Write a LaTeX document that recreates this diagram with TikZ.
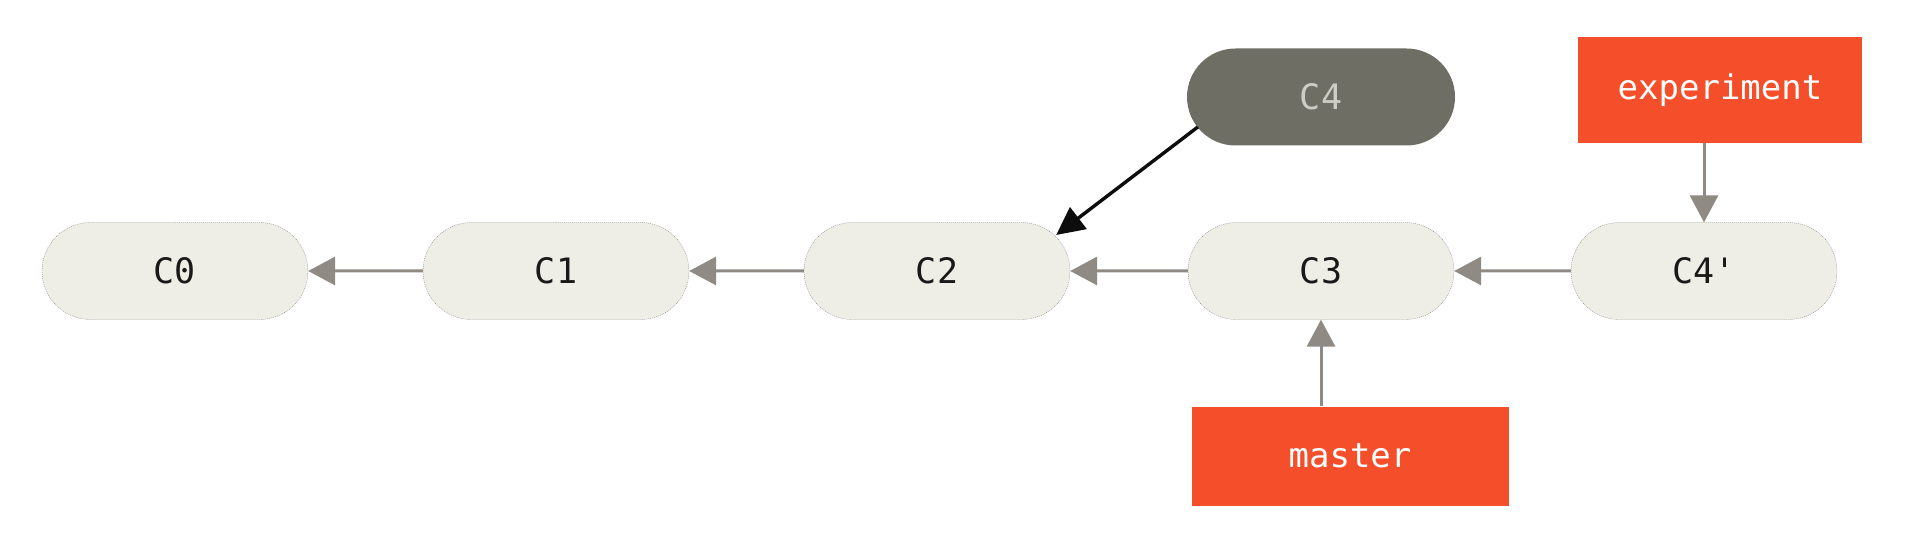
\documentclass[tikz,border=0pt]{standalone}
\usepackage{fontspec}
\newfontfamily\cmono{DejaVu Sans Mono}
\usetikzlibrary{arrows.meta,shapes.misc}
\definecolor{commitfill}{RGB}{238,237,230}
\definecolor{darkfill}{RGB}{111,110,101}
\definecolor{branchred}{RGB}{244,79,42}
\definecolor{arrowgray}{RGB}{143,138,132}
\definecolor{ghosttext}{RGB}{205,204,198}
\tikzset{
  commit/.style={rounded rectangle, rounded rectangle arc length=180, minimum width=266pt, minimum height=97pt,
    inner sep=0pt, fill=commitfill, draw=black!55, line width=0.3pt, dash pattern=on 1pt off 1pt,
    font=\cmono\fontsize{35}{40}\selectfont, text=black!90},
  ghost/.style={rounded rectangle, rounded rectangle arc length=180, minimum width=268pt, minimum height=97pt,
    inner sep=0pt, fill=darkfill, font=\cmono\fontsize{35}{40}\selectfont, text=ghosttext},
  branch/.style={rectangle, inner sep=0pt, fill=branchred, text=white,
    font=\cmono\fontsize{34}{40}\selectfont},
  garrow/.style={draw=arrowgray, line width=3pt, -{Triangle[length=27pt,width=28pt]}},
  barrow/.style={draw=black!95, line width=3.4pt, -{Triangle[length=28pt,width=27pt]}}
}
\begin{document}
\begin{tikzpicture}[x=1pt,y=-1pt]
\useasboundingbox (0,0) rectangle (1923,540);
\node[commit] (C0) at (175,271) {C0};
\node[commit] (C1) at (556,271) {C1};
\node[commit] (C2) at (937,271) {C2};
\node[commit] (C3) at (1321,271) {C3};
\node[commit] (C4p) at (1704,271) {C4'};
\node[ghost] (C4) at (1321,97) {C4};
\node[branch, minimum width=284pt, minimum height=106pt] (exp) at (1720,90) {experiment};
\node[branch, minimum width=317pt, minimum height=99pt] (master) at (1350,456) {master};
\draw[garrow] (C1) -- (C0);
\draw[garrow] (C2) -- (C1);
\draw[garrow] (C3) -- (C2);
\draw[garrow] (C4p) -- (C3);
\draw[garrow] (master.north -| C3.south) -- (C3.south);
\draw[garrow] (exp.south -| C4p.north) -- (C4p.north);
\draw[barrow] ([xshift=11pt,yshift=-30pt]C4.west) -- ([xshift=-14pt,yshift=36pt]C2.east);
\end{tikzpicture}
\end{document}
